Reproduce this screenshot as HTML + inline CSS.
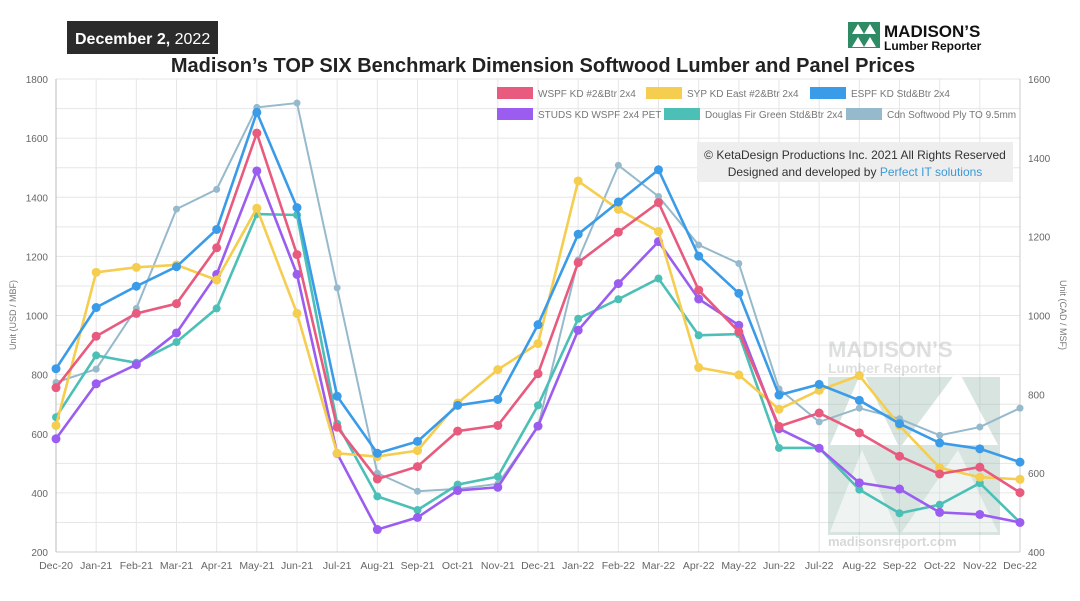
<!DOCTYPE html>
<html><head><meta charset="utf-8">
<style>
body{margin:0;width:1080px;height:596px;background:#fff;overflow:hidden;font-family:"Liberation Sans",sans-serif;}
#wrap{position:relative;width:1080px;height:596px;}
</style></head>
<body>
<div id="wrap">
<svg id="chart" width="1080" height="596" xmlns="http://www.w3.org/2000/svg">
  <rect x="67" y="21" width="151" height="33" fill="#2b2b2b"/>
  <text x="75" y="44" font-size="16" fill="#fff"><tspan font-weight="bold">December 2,</tspan> 2022</text>
  <text x="543" y="72" font-size="20" font-weight="bold" text-anchor="middle" fill="#222">Madison’s TOP SIX Benchmark Dimension Softwood Lumber and Panel Prices</text>
  <g>
    <rect x="848" y="22" width="32" height="26" fill="#2e8b63"/>
    <polygon points="852,34 858,24 864,34" fill="#fff"/><polygon points="864,34 870,24 876,34" fill="#fff"/>
    <polygon points="852,47 858,37 864,47" fill="#fff"/><polygon points="864,47 870,37 876,47" fill="#fff"/>
    <text x="884" y="37" font-size="17" font-weight="bold" fill="#111">MADISON’S</text>
    <text x="884" y="50" font-size="12" font-weight="bold" fill="#111">Lumber Reporter</text>
  </g>
  <g id="grid"></g>
  <g opacity="0.35">
    <text x="828" y="357" font-size="22" font-weight="bold" fill="#a0a8a4">MADISON’S</text>
    <text x="828" y="373" font-size="14" font-weight="bold" fill="#a0a8a4">Lumber Reporter</text>
    <rect x="828" y="377" width="172" height="158" fill="#8fb3a6"/>
    <polygon points="830,445 862,370 898,445" fill="#fff"/><polygon points="902,445 958,370 998,445" fill="#fff"/>
    <polygon points="830,532 862,450 898,532" fill="#fff" opacity="0.6"/><polygon points="902,532 958,450 998,532" fill="#fff" opacity="0.6"/>
    <text x="828" y="546" font-size="13" font-weight="bold" fill="#8a928e">madisonsreport.com</text>
  </g>
  <g id="series"></g>
  <g>
    <rect x="697" y="142" width="316" height="40" fill="#eeeeee"/>
    <text x="855" y="159" font-size="12" text-anchor="middle" fill="#333">© KetaDesign Productions Inc. 2021 All Rights Reserved</text>
    <text x="855" y="176" font-size="12" text-anchor="middle" fill="#333">Designed and developed by <tspan fill="#3a9ad9">Perfect IT solutions</tspan></text>
  </g>
  <g id="legend"></g>
  <text transform="translate(16,315) rotate(-90)" font-size="9" fill="#777" text-anchor="middle">Unit (USD / MBF)</text>
  <text transform="translate(1060,315) rotate(90)" font-size="9" fill="#777" text-anchor="middle">Unit (CAD / MSF)</text>
</svg>
</div>
<script>
const categories=["Dec-20","Jan-21","Feb-21","Mar-21","Apr-21","May-21","Jun-21","Jul-21","Aug-21","Sep-21","Oct-21","Nov-21","Dec-21","Jan-22","Feb-22","Mar-22","Apr-22","May-22","Jun-22","Jul-22","Aug-22","Sep-22","Oct-22","Nov-22","Dec-22"];
const leftTicks=[200,400,600,800,1000,1200,1400,1600,1800];
const rightTicks=[400,600,800,1000,1200,1400,1600];
const wspf=[756,930,1007,1040,1229,1617,1206,622,447,489,609,628,803,1179,1282,1382,1086,945,625,670,603,524,464,487,401];
const syp=[628,1146,1163,1171,1120,1363,1007,534,523,543,704,817,905,1455,1359,1284,824,799,683,747,797,628,485,453,446];
const espf=[820,1027,1099,1165,1291,1687,1365,727,534,574,696,716,969,1275,1384,1493,1201,1075,731,767,713,634,569,549,504];
const studs=[583,769,834,941,1139,1489,1139,533,276,317,408,419,626,950,1108,1250,1056,967,617,551,434,413,334,327,300];
const dfir=[656,865,840,910,1024,1343,1340,634,388,342,428,455,696,989,1055,1125,933,937,552,552,411,331,360,433,300];
const ply=[830,864,1018,1270,1320,1528,1539,1070,600,554,560,573,717,1141,1381,1302,1179,1132,814,730,765,738,696,717,765];
const NS="http://www.w3.org/2000/svg";
const X0=56,X1=1020,YT=79,YB=552;
const x=i=>X0+(X1-X0)*i/(categories.length-1);
const yL=v=>YB-(v-200)/1600*(YB-YT);
const yR=v=>YB-(v-400)/1200*(YB-YT);
function mk(tag,attrs,parent){const e=document.createElementNS(NS,tag);for(const k in attrs)e.setAttribute(k,attrs[k]);parent.appendChild(e);return e;}
const grid=document.getElementById('grid');
for(let v=200;v<=1800;v+=100){const l=mk('line',{x1:X0,x2:X1,y1:yL(v),y2:yL(v),stroke:'#e6e6e6','stroke-width':1},grid);

}
categories.forEach((c,i)=>{const l=mk('line',{x1:x(i),x2:x(i),y1:YT,y2:YB,stroke:i==0?'#bbb':'#e6e6e6','stroke-width':1},grid);


const t=mk('text',{x:x(i),y:YB+17,'font-size':10.5,fill:'#666','text-anchor':'middle'},grid);t.textContent=c;

});
mk('line',{x1:X0,x2:X1,y1:YB,y2:YB,stroke:'#ccc'},grid);
mk('line',{x1:X1,x2:X1,y1:YT,y2:YB,stroke:'#ccc'},grid);
leftTicks.forEach(v=>{const t=mk('text',{x:48,y:yL(v)+4,'font-size':10,fill:'#666','text-anchor':'end'},grid);t.textContent=v;

});
rightTicks.forEach(v=>{const t=mk('text',{x:1028,y:yR(v)+4,'font-size':10,fill:'#666'},grid);t.textContent=v;

});
const series=[
 {name:'Cdn Softwood Ply TO 9.5mm',data:ply,color:'#96b9cc',axis:yR,r:3.5,id:'cdn-ply'},
 {name:'Douglas Fir Green Std&Btr 2x4',data:dfir,color:'#4cc0b6',axis:yL,r:4,id:'douglas-fir'},
 {name:'STUDS KD WSPF 2x4 PET',data:studs,color:'#9b5cf0',axis:yL,r:4.5,id:'studs-wspf'},
 {name:'SYP KD East #2&Btr 2x4',data:syp,color:'#f5cd4f',axis:yL,r:4.5,id:'syp-east'},
 {name:'WSPF KD #2&Btr 2x4',data:wspf,color:'#e85a7e',axis:yL,r:4.5,id:'wspf'},
 {name:'ESPF KD Std&Btr 2x4',data:espf,color:'#3a9be8',axis:yL,r:4.5,id:'espf'}];
const sg=document.getElementById('series');
series.forEach(s=>{const g=mk('g',{},sg);


const p=mk('polyline',{points:s.data.map((v,i)=>x(i)+','+s.axis(v)).join(' '),fill:'none',stroke:s.color,'stroke-width':s.id=='cdn-ply'?2:2.6},g);


s.data.forEach((v,i)=>{const c=mk('circle',{cx:x(i),cy:s.axis(v),r:s.r,fill:s.color},g);

});});
const lg=document.getElementById('legend');
const leg=[['WSPF KD #2&Btr 2x4','#e85a7e',497,94],['SYP KD East #2&Btr 2x4','#f5cd4f',646,94],['ESPF KD Std&Btr 2x4','#3a9be8',810,94],
['STUDS KD WSPF 2x4 PET','#9b5cf0',497,115],['Douglas Fir Green Std&Btr 2x4','#4cc0b6',664,115],['Cdn Softwood Ply TO 9.5mm','#96b9cc',846,115]];
leg.forEach(([n,c,lx,ly])=>{const g=mk('g',{},lg);


mk('rect',{x:lx,y:ly-7,width:36,height:12,fill:c},g);
const t=mk('text',{x:lx+41,y:ly+3,'font-size':10,fill:'#777'},g);t.textContent=n;});
</script>
</body></html>
